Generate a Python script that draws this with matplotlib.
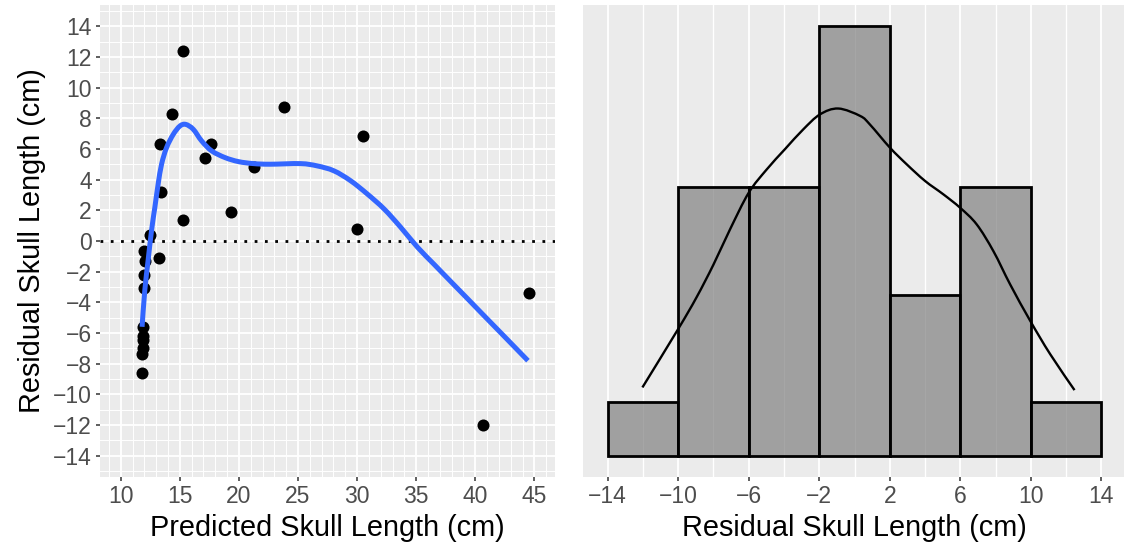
import numpy as np
import matplotlib.pyplot as plt
from matplotlib.path import Path
from matplotlib.patches import PathPatch
from matplotlib.ticker import MultipleLocator

plt.rcParams['font.family'] = ['Liberation Sans', 'DejaVu Sans']

# scatter: predicted vs residual skull length (cm)
predicted = [15.29, 14.31, 13.31, 13.37, 15.24, 17.16, 17.62, 19.37, 21.30, 23.85,
             12.46, 11.95, 13.25, 12.04, 11.95, 11.95, 11.90, 11.85, 11.90, 11.85,
             11.80, 11.80, 30.53, 29.97, 44.52, 40.67]
residual = [12.42, 8.30, 6.31, 3.23, 1.39, 5.40, 6.31, 1.89, 4.84, 8.76,
            0.42, -0.62, -1.12, -1.33, -2.22, -3.04, -5.60, -6.20, -6.47, -7.00,
            -7.40, -8.63, 6.85, 0.79, -3.39, -12.01]

# loess smooth
smooth_x = [11.81, 12.04, 12.32, 12.61, 12.89, 13.17, 13.46, 13.88, 14.45, 15.01,
            15.50, 16.14, 16.85, 17.70, 18.84, 19.97, 21.24, 22.66, 25.21, 26.63,
            28.04, 29.46, 30.88, 32.29, 33.70, 35.12, 36.54, 37.95, 39.37, 40.78,
            42.20, 44.46]
smooth_y = [-5.60, -3.22, -1.27, 0.68, 2.19, 3.71, 5.01, 6.09, 6.96, 7.50,
            7.61, 7.29, 6.53, 5.88, 5.44, 5.18, 5.05, 5.01, 5.05, 4.90,
            4.58, 3.93, 3.06, 2.09, 0.89, -0.41, -1.54, -2.66, -3.78, -4.90,
            -6.02, -7.81]

# histogram of residuals
bin_edges = [-14, -10, -6, -2, 2, 6, 10, 14]
bin_counts = [1, 5, 5, 8, 3, 5, 1]

# density curve scaled to counts
density_x = [-12.03, -10.0, -8.96, -8.0, -7.07, -6.0, -4.99, -3.95, -2.91, -1.96,
             -0.92, 0.33, 0.88, 2.01, 2.96, 4.0, 5.04, 5.99, 6.93, 7.88,
             8.83, 9.97, 11.10, 12.48]
density_y = [1.27, 2.36, 2.95, 3.56, 4.21, 4.90, 5.33, 5.71, 6.08, 6.36,
             6.47, 6.33, 6.17, 5.74, 5.43, 5.12, 4.87, 4.62, 4.31, 3.81,
             3.19, 2.51, 1.89, 1.22]


def smooth_curve(ax, xs, ys, **kw):
    # draw a line through the points as a smooth bezier path (catmull-rom)
    p = np.column_stack([xs, ys]).astype(float)
    verts = [p[0]]
    codes = [Path.MOVETO]
    n = len(p)
    for i in range(n - 1):
        p0 = p[i - 1] if i > 0 else p[i]
        p1, p2 = p[i], p[i + 1]
        p3 = p[i + 2] if i + 2 < n else p[i + 1]
        verts += [p1 + (p2 - p0) / 6, p2 - (p3 - p1) / 6, p2]
        codes += [Path.CURVE4] * 3
    patch = PathPatch(Path(verts, codes), fill=False, **kw)
    ax.add_patch(patch)
    return patch


W, H = 1124, 552
fig = plt.figure(figsize=(W / 100, H / 100), dpi=100)
ax1 = fig.add_axes([100 / W, (H - 477) / H, 455 / W, 472 / H])
ax2 = fig.add_axes([583 / W, (H - 477) / H, 543 / W, 472 / H])

bg = '#EBEBEB'
for ax in (ax1, ax2):
    ax.set_facecolor(bg)
    for s in ax.spines.values():
        s.set_visible(False)
    ax.set_axisbelow(True)
    ax.tick_params(which='major', length=3, width=1.1, color='#333333',
                   labelcolor='#4D4D4D', labelsize=16.5, pad=3)
    ax.tick_params(which='minor', length=0)

# left panel
ax1.xaxis.set_major_locator(MultipleLocator(5))
ax1.xaxis.set_minor_locator(MultipleLocator(1))
ax1.yaxis.set_major_locator(MultipleLocator(2))
ax1.yaxis.set_minor_locator(MultipleLocator(1))
ax1.grid(which='major', color='white', linewidth=1.3)
ax1.grid(which='minor', color='white', linewidth=0.7)
ax1.set_xlim(8.25, 46.75)
ax1.set_ylim(-15.4, 15.4)
ax1.set_xticks(np.arange(10, 46, 5))
ax1.set_yticks(np.arange(-14, 15, 2))

ax1.axhline(0, color='black', linewidth=2.0, linestyle=(0, (1, 2.7)), zorder=2)
ax1.scatter(predicted, residual, s=75, color='black', linewidths=0, zorder=3)
smooth_curve(ax1, smooth_x, smooth_y, edgecolor='#3366FF', linewidth=3.6,
             zorder=4, capstyle='butt', joinstyle='round')
ax1.set_xlabel('Predicted Skull Length (cm)', fontsize=20.8, labelpad=4)
ax1.set_ylabel('Residual Skull Length (cm)', fontsize=20.8, labelpad=5)

# right panel
ax2.set_xlim(-15.4, 15.4)
ax2.set_ylim(-0.4, 8.4)
ax2.set_xticks(np.arange(-14, 15, 4))
ax2.xaxis.set_minor_locator(MultipleLocator(2))
ax2.set_yticks([])
ax2.grid(axis='x', which='major', color='white', linewidth=1.3)
ax2.grid(axis='x', which='minor', color='white', linewidth=1.0)
ax2.bar(bin_edges[:-1], bin_counts, width=np.diff(bin_edges), align='edge',
        facecolor=(0.5, 0.5, 0.5, 0.7), edgecolor='black', linewidth=2.0, zorder=2)
smooth_curve(ax2, density_x, density_y, edgecolor='black', linewidth=1.7, zorder=3)
ax2.set_xlabel('Residual Skull Length (cm)', fontsize=20.8, labelpad=4)

fig.savefig('out.png', dpi=100)
